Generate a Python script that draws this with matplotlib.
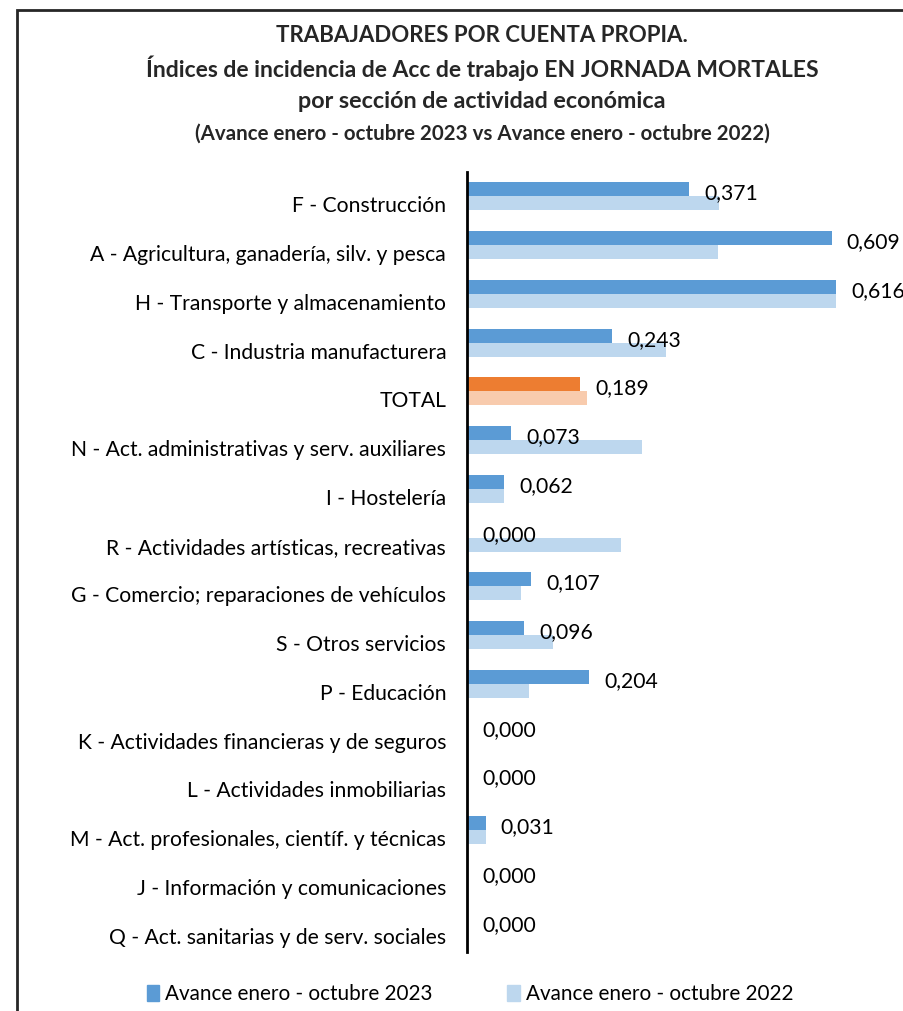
import matplotlib
matplotlib.use("Agg")
import matplotlib.pyplot as plt
import matplotlib.patches as pat
import matplotlib.transforms as mtrans
import numpy as np

# section labels, top to bottom
categories = [
    "F - Construcción",
    "A - Agricultura, ganadería, silv. y pesca",
    "H - Transporte y almacenamiento",
    "C - Industria manufacturera",
    "TOTAL",
    "N - Act. administrativas y serv. auxiliares",
    "I - Hostelería",
    "R - Actividades artísticas, recreativas",
    "G - Comercio; reparaciones de vehículos",
    "S - Otros servicios",
    "P - Educación",
    "K - Actividades financieras y de seguros",
    "L - Actividades inmobiliarias",
    "M - Act. profesionales, científ. y técnicas",
    "J - Información y comunicaciones",
    "Q - Act. sanitarias y de serv. sociales",
]
values_2023 = [0.371, 0.609, 0.616, 0.243, 0.189, 0.073, 0.062, 0.000,
               0.107, 0.096, 0.204, 0.000, 0.000, 0.031, 0.000, 0.000]
values_2022 = [0.421, 0.419, 0.616, 0.333, 0.200, 0.293, 0.061, 0.257,
               0.090, 0.143, 0.103, 0.000, 0.000, 0.032, 0.000, 0.000]
series_names = ["Avance enero - octubre 2023", "Avance enero - octubre 2022"]
title_lines = [
    "TRABAJADORES POR CUENTA PROPIA.",
    "Índices de incidencia de Acc de trabajo EN JORNADA MORTALES",
    "por sección de actividad económica",
    "(Avance enero - octubre 2023 vs Avance enero - octubre 2022)",
]

# drawing setting
font = ["Lato", "DejaVu Sans"]
dark_blue = "#5B9BD5"
light_blue = "#BDD7EE"
dark_orange = "#ED7D31"
light_orange = "#F8CBAD"
bar_h = 0.287
label_size = 15.2

W, H = 904, 1011
fig = plt.figure(figsize=(W / 100, H / 100), dpi=100)
plt.rcParams["font.family"] = font


def fx(px):
    return px / W


def fy(px):
    return 1 - px / H


# outer frame (right and bottom edges fall outside the image)
frame = pat.Rectangle((fx(17), fy(1030)), fx(960), 1020 / H,
                      transform=fig.transFigure, fill=False,
                      edgecolor="#262626", linewidth=2)
fig.add_artist(frame)

ax = fig.add_axes([fx(467), fy(952), fx(886 - 467), (952 - 172) / H])
y = np.arange(len(categories))
c_dark = [dark_orange if c == "TOTAL" else dark_blue for c in categories]
c_light = [light_orange if c == "TOTAL" else light_blue for c in categories]

ax.barh(y - bar_h / 2, values_2023, height=bar_h, color=c_dark,
        label=series_names[0])
ax.barh(y + bar_h / 2, values_2022, height=bar_h, color=c_light,
        label=series_names[1])

for yi, v in zip(y, values_2023):
    ax.annotate(f"{v:.3f}".replace(".", ","), xy=(v, yi - bar_h / 2),
                xytext=(11, -3), textcoords="offset points",
                va="center", ha="left", fontsize=label_size)

ax.set_xlim(0, 0.7)
ax.set_ylim(len(categories) - 0.5, -0.5)
ax.set_yticks(y)
ax.set_yticklabels(categories, fontsize=label_size)
ax.tick_params(axis="y", length=0, pad=15)
ax.tick_params(axis="x", bottom=False, labelbottom=False)
# category names sit a little below the bar pair
shift = mtrans.ScaledTranslation(0, -8 / 100, fig.dpi_scale_trans)
for lab in ax.get_yticklabels():
    lab.set_transform(lab.get_transform() + shift)
for s in ["top", "right", "bottom"]:
    ax.spines[s].set_visible(False)
ax.spines["left"].set_linewidth(2)
ax.spines["left"].set_color("black")

# title lines
title_y = [35, 68, 101, 134]
title_size = [16, 16.5, 16.8, 14.8]
for t, ty, ts in zip(title_lines, title_y, title_size):
    fig.text(fx(482), fy(ty), t, ha="center", va="center",
             fontsize=ts, fontweight="bold", color="#262626")

# legend
handles = [pat.Patch(color=dark_blue), pat.Patch(color=light_blue)]
fig.legend(handles, series_names, loc="center", ncol=2,
           bbox_to_anchor=(fx(470), fy(994)), frameon=False,
           fontsize=14.9, handlelength=0.6, handleheight=0.85,
           handletextpad=0.3, columnspacing=3.6)

fig.savefig("out.png", dpi=100)
